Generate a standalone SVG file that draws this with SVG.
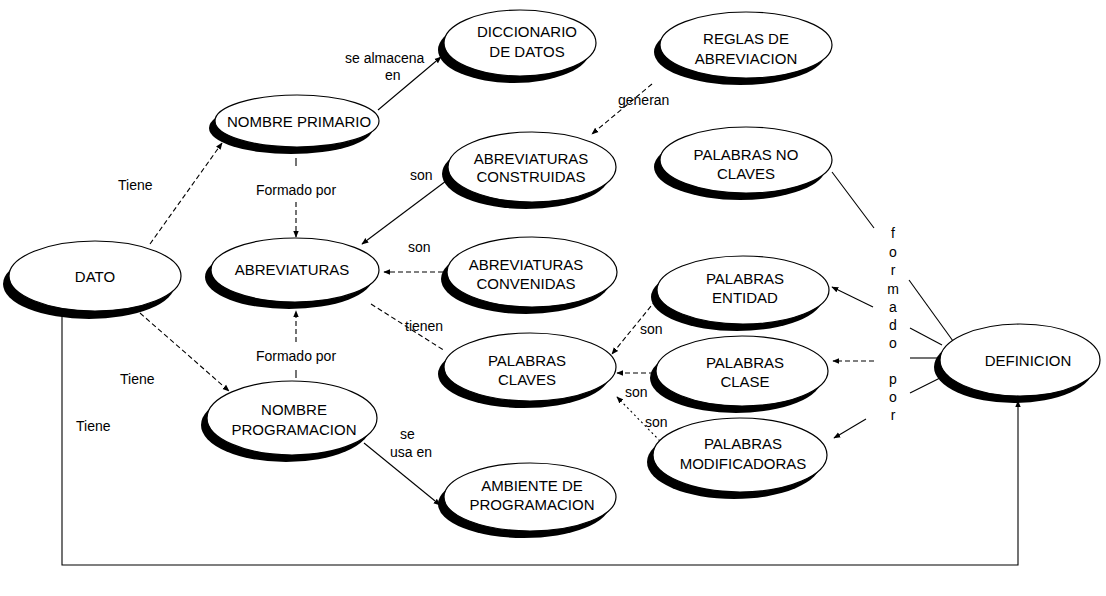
<svg xmlns="http://www.w3.org/2000/svg" width="1106" height="596" viewBox="0 0 1106 596">
  <style>
    .bg { fill: #ffffff; }
    .shadow { fill: #000000; }
    .face { fill: #ffffff; stroke: #000000; stroke-width: 1.2; }
    .node text { font-family: "Liberation Sans", Arial, sans-serif; font-size: 15px; fill: #000; text-anchor: middle; }
    .lbl { font-family: "Liberation Sans", Arial, sans-serif; font-size: 14px; fill: #000; }
    .mid { text-anchor: middle; }
    .edge { fill: none; stroke: #000; stroke-width: 1.1; }
    .dash { stroke-dasharray: 5 3; }
    .dot { stroke-dasharray: 2 3; }
  </style>
  <defs>
    <marker id="arr" viewBox="0 0 10 10" refX="9" refY="5" markerWidth="7" markerHeight="7" orient="auto" markerUnits="userSpaceOnUse">
      <path d="M0,1 L10,5 L0,9 Z" fill="#000"/>
    </marker>
  </defs>
  <rect class="bg" x="0" y="0" width="1106" height="596"/>

  <!-- connectors -->
  <g id="connectors">
    <line class="edge dash" x1="150" y1="244" x2="222" y2="143" marker-end="url(#arr)"/>
    <line class="edge" x1="378" y1="110" x2="441" y2="57" marker-end="url(#arr)"/>
    <line class="edge" x1="296" y1="158" x2="296" y2="166"/>
    <line class="edge dash" x1="296" y1="202" x2="296" y2="237" marker-end="url(#arr)"/>
    <line class="edge dash" x1="652" y1="84" x2="592" y2="134" marker-end="url(#arr)"/>
    <line class="edge" x1="450" y1="178" x2="362" y2="244" marker-end="url(#arr)"/>
    <line class="edge dash" x1="443" y1="272" x2="384" y2="272" marker-end="url(#arr)"/>
    <line class="edge dash" x1="371" y1="304" x2="445" y2="351"/>
    <line class="edge dash" x1="296" y1="342" x2="296" y2="311" marker-end="url(#arr)"/>
    <line class="edge" x1="296" y1="370" x2="296" y2="378"/>
    <line class="edge dash" x1="140" y1="313" x2="229" y2="391" marker-end="url(#arr)"/>
    <line class="edge" x1="364" y1="443" x2="440" y2="505" marker-end="url(#arr)"/>
    <line class="edge dash" x1="656" y1="300" x2="612" y2="354" marker-end="url(#arr)"/>
    <line class="edge dash" x1="654" y1="373" x2="617" y2="373" marker-end="url(#arr)"/>
    <line class="edge dot" x1="660" y1="441" x2="617" y2="397" marker-end="url(#arr)"/>
    <!-- "formado por" links, broken where the vertical label runs -->
    <line class="edge" x1="832" y1="172" x2="874" y2="228"/>
    <line class="edge" x1="909" y1="280" x2="953" y2="341"/>
    <line class="edge" x1="873" y1="307" x2="832" y2="287" marker-end="url(#arr)"/>
    <line class="edge" x1="910" y1="328" x2="942" y2="345"/>
    <line class="edge dash" x1="874" y1="361" x2="833" y2="361" marker-end="url(#arr)"/>
    <line class="edge" x1="910" y1="358" x2="937" y2="358"/>
    <line class="edge" x1="866" y1="419" x2="834" y2="438" marker-end="url(#arr)"/>
    <line class="edge" x1="910" y1="393" x2="940" y2="378"/>
    <!-- DATO to DEFINICION loop -->
    <polyline class="edge" points="62,312 62,565 1018,565 1018,401" marker-end="url(#arr)"/>
  </g>

  <!-- connector labels -->
  <g id="labels">
    <text class="lbl" x="118" y="190">Tiene</text>
    <text class="lbl" x="345" y="63">se almacena</text>
    <text class="lbl" x="385" y="80">en</text>
    <text class="lbl mid" x="296" y="195">Formado por</text>
    <text class="lbl" x="618" y="105">generan</text>
    <text class="lbl" x="410" y="180">son</text>
    <text class="lbl" x="408" y="252">son</text>
    <text class="lbl" x="405" y="331">tienen</text>
    <text class="lbl mid" x="296" y="361">Formado por</text>
    <text class="lbl" x="120" y="384">Tiene</text>
    <text class="lbl" x="76" y="431">Tiene</text>
    <text class="lbl" x="400" y="439">se</text>
    <text class="lbl" x="390" y="457">usa en</text>
    <text class="lbl" x="640" y="334">son</text>
    <text class="lbl" x="625" y="397">son</text>
    <text class="lbl" x="645" y="427">son</text>
    <text class="lbl mid" x="893" y="238">f</text>
    <text class="lbl mid" x="893" y="257">o</text>
    <text class="lbl mid" x="893" y="275">r</text>
    <text class="lbl mid" x="893" y="294">m</text>
    <text class="lbl mid" x="893" y="312">a</text>
    <text class="lbl mid" x="893" y="330">d</text>
    <text class="lbl mid" x="893" y="348">o</text>
    <text class="lbl mid" x="893" y="384">p</text>
    <text class="lbl mid" x="893" y="402">o</text>
    <text class="lbl mid" x="893" y="420">r</text>
  </g>

  <!-- nodes: black crescent shadow under a white ellipse -->
  <g id="dato" class="node">
    <ellipse class="shadow" cx="89" cy="284" rx="86" ry="35"/>
    <ellipse class="face" cx="95" cy="276" rx="86" ry="35"/>
    <text x="95" y="282">DATO</text>
  </g>
  <g id="nombre-primario" class="node">
    <ellipse class="shadow" cx="291" cy="128" rx="82" ry="26"/>
    <ellipse class="face" cx="297" cy="121" rx="82" ry="26"/>
    <text x="299" y="127">NOMBRE PRIMARIO</text>
  </g>
  <g id="diccionario" class="node">
    <ellipse class="shadow" cx="514" cy="50" rx="76" ry="33"/>
    <ellipse class="face" cx="520" cy="43" rx="76" ry="33"/>
    <text x="527" y="37">DICCIONARIO</text>
    <text x="527" y="57">DE DATOS</text>
  </g>
  <g id="reglas" class="node">
    <ellipse class="shadow" cx="740" cy="52" rx="86" ry="33"/>
    <ellipse class="face" cx="746" cy="45" rx="86" ry="33"/>
    <text x="746" y="44">REGLAS DE</text>
    <text x="746" y="64">ABREVIACION</text>
  </g>
  <g id="abrev-construidas" class="node">
    <ellipse class="shadow" cx="526" cy="174" rx="84" ry="35"/>
    <ellipse class="face" cx="532" cy="167" rx="84" ry="35"/>
    <text x="531" y="164">ABREVIATURAS</text>
    <text x="531" y="182">CONSTRUIDAS</text>
  </g>
  <g id="palabras-no-claves" class="node">
    <ellipse class="shadow" cx="740" cy="167" rx="86" ry="33"/>
    <ellipse class="face" cx="746" cy="160" rx="86" ry="33"/>
    <text x="746" y="160">PALABRAS NO</text>
    <text x="746" y="179">CLAVES</text>
  </g>
  <g id="abreviaturas" class="node">
    <ellipse class="shadow" cx="289" cy="277" rx="84" ry="32"/>
    <ellipse class="face" cx="295" cy="270" rx="84" ry="32"/>
    <text x="292" y="275">ABREVIATURAS</text>
  </g>
  <g id="abrev-convenidas" class="node">
    <ellipse class="shadow" cx="526" cy="279" rx="85" ry="35"/>
    <ellipse class="face" cx="532" cy="272" rx="85" ry="35"/>
    <text x="526" y="270">ABREVIATURAS</text>
    <text x="526" y="289">CONVENIDAS</text>
  </g>
  <g id="palabras-entidad" class="node">
    <ellipse class="shadow" cx="737" cy="297" rx="86" ry="34"/>
    <ellipse class="face" cx="743" cy="290" rx="86" ry="34"/>
    <text x="745" y="284">PALABRAS</text>
    <text x="745" y="303">ENTIDAD</text>
  </g>
  <g id="palabras-claves" class="node">
    <ellipse class="shadow" cx="524" cy="374" rx="86" ry="34"/>
    <ellipse class="face" cx="530" cy="367" rx="86" ry="34"/>
    <text x="527" y="366">PALABRAS</text>
    <text x="527" y="385">CLAVES</text>
  </g>
  <g id="palabras-clase" class="node">
    <ellipse class="shadow" cx="736" cy="378" rx="86" ry="35"/>
    <ellipse class="face" cx="742" cy="371" rx="86" ry="35"/>
    <text x="745" y="368">PALABRAS</text>
    <text x="745" y="387">CLASE</text>
  </g>
  <g id="definicion" class="node">
    <ellipse class="shadow" cx="1014" cy="367" rx="80" ry="36"/>
    <ellipse class="face" cx="1020" cy="360" rx="80" ry="36"/>
    <text x="1028" y="366">DEFINICION</text>
  </g>
  <g id="nombre-programacion" class="node">
    <ellipse class="shadow" cx="286" cy="425" rx="85" ry="37"/>
    <ellipse class="face" cx="292" cy="418" rx="85" ry="37"/>
    <text x="294" y="415">NOMBRE</text>
    <text x="294" y="435">PROGRAMACION</text>
  </g>
  <g id="palabras-modificadoras" class="node">
    <ellipse class="shadow" cx="734" cy="462" rx="87" ry="37"/>
    <ellipse class="face" cx="740" cy="455" rx="87" ry="37"/>
    <text x="743" y="449">PALABRAS</text>
    <text x="743" y="469">MODIFICADORAS</text>
  </g>
  <g id="ambiente" class="node">
    <ellipse class="shadow" cx="524" cy="504" rx="86" ry="34"/>
    <ellipse class="face" cx="530" cy="497" rx="86" ry="34"/>
    <text x="532" y="491">AMBIENTE DE</text>
    <text x="532" y="510">PROGRAMACION</text>
  </g>
</svg>
